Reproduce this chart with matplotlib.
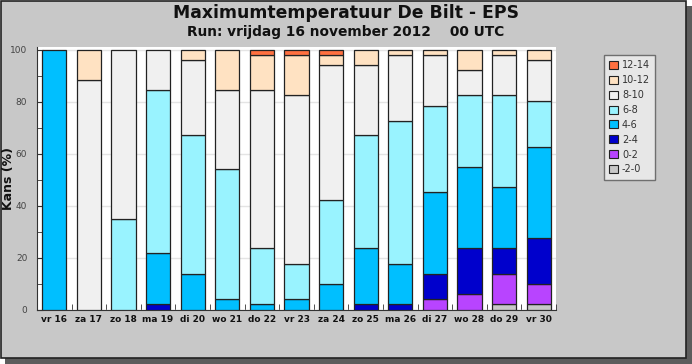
import matplotlib
matplotlib.use('Agg')
import matplotlib.pyplot as plt
from matplotlib.patches import Rectangle, Patch
import numpy as np

days = ['vr 16', 'za 17', 'zo 18', 'ma 19', 'di 20', 'wo 21', 'do 22', 'vr 23',
        'za 24', 'zo 25', 'ma 26', 'di 27', 'wo 28', 'do 29', 'vr 30']

# kans (%) per temperatuurklasse, van onder naar boven
c_m2_0 = [0, 0, 0, 0, 0, 0, 0, 0, 0, 0, 0, 0, 0, 2.0, 2.0]
c_0_2 = [0, 0, 0, 0, 0, 0, 0, 0, 0, 0, 0, 3.9, 5.9, 11.7, 7.8]
c_2_4 = [0, 0, 0, 2.0, 0, 0, 0, 0, 0, 2.0, 2.0, 9.8, 17.6, 9.8, 17.7]
c_4_6 = [100, 0, 0, 19.6, 13.7, 3.9, 2.0, 3.9, 9.8, 21.5, 15.6, 31.4, 31.4, 23.6, 35.2]
c_6_8 = [0, 0, 34.7, 62.7, 53.6, 50.0, 21.5, 13.7, 32.4, 43.8, 54.9, 33.3, 27.5, 35.3, 17.7]
c_8_10 = [0, 88.2, 65.3, 15.7, 28.8, 30.4, 60.8, 64.8, 51.9, 26.8, 25.5, 19.6, 9.8, 15.6, 15.7]
c_10_12 = [0, 11.8, 0, 0, 3.9, 15.7, 13.7, 15.6, 3.9, 5.9, 2.0, 2.0, 7.8, 2.0, 3.9]
c_12_14 = [0, 0, 0, 0, 0, 0, 2.0, 2.0, 2.0, 0, 0, 0, 0, 0, 0]

labels = ['-2-0', '0-2', '2-4', '4-6', '6-8', '8-10', '10-12', '12-14']
colors = ['#c8c8c8', '#b844ff', '#0000cc', '#00bfff', '#99f3ff', '#f0f0f0', '#ffe2c2', '#ff7040']
series = [c_m2_0, c_0_2, c_2_4, c_4_6, c_6_8, c_8_10, c_10_12, c_12_14]

W, H = 692, 364
fig = plt.figure(figsize=(W / 100, H / 100), dpi=100)
fig.patch.set_facecolor('white')

def px(x0, y0, x1, y1):
    # pixel box (top-left origin) -> figure fraction rect
    return (x0 / W, 1 - y1 / H), (x1 - x0) / W, (y1 - y0) / H

# shadow + panel
xy, w, h = px(5, 6, 692, 364)
fig.patches.append(Rectangle(xy, w, h, transform=fig.transFigure, facecolor='#5c5c5c', edgecolor='none', zorder=-3))
xy, w, h = px(0.5, 0.5, 686, 358)
fig.patches.append(Rectangle(xy, w, h, transform=fig.transFigure, facecolor='#c8c8c8', edgecolor='#222222', lw=1.2, zorder=-2))

fig.text(0.5, 1 - 13 / H, 'Maximumtemperatuur De Bilt - EPS', ha='center', va='center',
         fontsize=12.4, fontweight='bold', color='#111111')
fig.text(0.5, 1 - 32 / H, 'Run: vrijdag 16 november 2012    00 UTC', ha='center', va='center',
         fontsize=9.9, fontweight='bold', color='#111111')

ax = fig.add_axes([37 / W, 1 - 309.5 / H, (556 - 37) / W, (309.5 - 46.5) / H])
ax.set_facecolor('white')
x = np.arange(len(days))
bottom = np.zeros(len(days))
for vals, col in zip(series, colors):
    vals = np.array(vals, dtype=float)
    m = vals > 0
    ax.bar(x[m], vals[m], bottom=bottom[m], width=0.7, color=col,
           edgecolor='#222222', linewidth=0.9, zorder=3)
    bottom += vals

ax.set_xlim(-0.5, len(days) - 0.5)
ax.set_ylim(0, 101.2)
ax.set_xticks(x)
ax.set_xticklabels(days, fontsize=6.5, fontweight='bold', color='#111111')
ax.set_xticks(np.arange(len(days) + 1) - 0.5, minor=True)
ax.tick_params(axis='x', which='major', length=0, pad=4)
ax.tick_params(axis='x', which='minor', direction='in', length=4, color='#333333')
ax.set_yticks(range(0, 101, 20))
ax.set_yticks(range(10, 100, 20), minor=True)
ax.tick_params(axis='y', which='both', direction='in', length=4, labelsize=6.5,
               labelcolor='#444444', color='#333333', pad=7)
ax.yaxis.grid(True, color='#e4e4e4', lw=1, zorder=0)
ax.set_axisbelow(True)
for s in ['top', 'right']:
    ax.spines[s].set_visible(False)
for s in ['left', 'bottom']:
    ax.spines[s].set_color('#333333')
ax.set_ylabel('Kans (%)', fontsize=9, fontweight='bold', color='#111111')
ax.yaxis.set_label_coords(-0.042, 0.5)

handles = [Patch(facecolor=c, edgecolor='#222222', lw=0.8, label=l)
           for c, l in zip(colors, labels)]
leg = fig.legend(handles[::-1], labels[::-1], loc='upper left',
                 bbox_to_anchor=(604 / W, 1 - 55 / H), fontsize=7,
                 frameon=True, fancybox=False, handlelength=0.9, handleheight=0.9,
                 handletextpad=0.4, labelspacing=0.5, borderpad=0.55,
                 borderaxespad=0)
leg.get_frame().set_facecolor('#f0f0f0')
leg.get_frame().set_edgecolor('#555555')
leg.get_frame().set_linewidth(1.0)
for t in leg.get_texts():
    t.set_color('#333333')

fig.savefig('out.png', dpi=100)
